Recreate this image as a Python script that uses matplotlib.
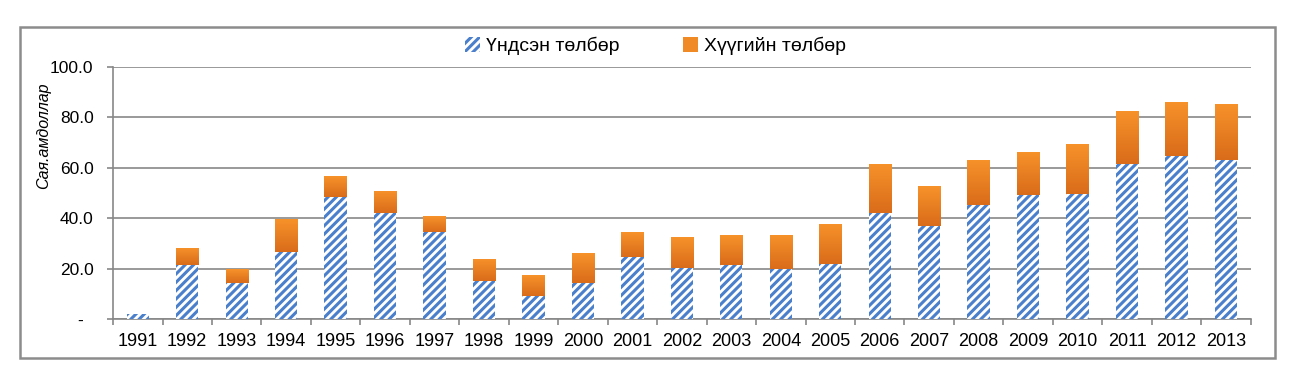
import numpy as np
import matplotlib.pyplot as plt
from matplotlib.colors import LinearSegmentedColormap
from matplotlib.patches import Rectangle

plt.rcParams['font.family'] = ['Liberation Sans', 'DejaVu Sans']
plt.rcParams['hatch.linewidth'] = 2.2

# =========================
# Data (сая ам.доллар)
# =========================
years = ['1991', '1992', '1993', '1994', '1995', '1996', '1997', '1998',
         '1999', '2000', '2001', '2002', '2003', '2004', '2005', '2006',
         '2007', '2008', '2009', '2010', '2011', '2012', '2013']
principal = [2.0, 21.5, 14.5, 26.7, 48.5, 41.9, 34.6, 15.1,
             9.2, 14.5, 24.7, 20.2, 21.5, 19.8, 21.9, 41.9,
             37.0, 45.2, 49.1, 49.8, 61.3, 64.5, 63.2]
interest = [0.0, 6.8, 5.3, 12.9, 8.3, 8.9, 6.2, 8.9,
            8.2, 11.6, 9.7, 12.2, 11.8, 13.5, 16.0, 19.4,
            15.8, 18.0, 17.1, 19.4, 21.1, 21.5, 22.2]
yticks = [0, 20, 40, 60, 80, 100]
ytick_labels = ['-  ', '20.0', '40.0', '60.0', '80.0', '100.0']
labels = ['Үндсэн төлбөр', 'Хүүгийн төлбөр']

BLUE = '#4a7fcb'
ORANGE = '#f08a24'
GRID = '#878787'

fig = plt.figure(figsize=(13.1, 3.87), dpi=100)
ax = fig.add_axes([0.0863, 0.1749, 0.8684, 0.6528])

x = np.arange(len(years))
width = 0.45

b1 = ax.bar(x, principal, width, color='white', edgecolor=BLUE,
            linewidth=0, hatch='////', label=labels[0], zorder=3)
b2 = ax.bar(x, interest, width, bottom=principal, color=ORANGE,
            linewidth=0, label=labels[1], zorder=3)

# gradient fill for the orange segments
cmap = LinearSegmentedColormap.from_list('org', ['#d96c1a', '#f7922a'])
grad = np.linspace(0, 1, 64).reshape(-1, 1)
for r in b2:
    if r.get_height() <= 0:
        continue
    x0, y0 = r.get_x(), r.get_y()
    im = ax.imshow(grad, cmap=cmap, origin='lower', aspect='auto',
                   extent=[x0, x0 + r.get_width(), y0, y0 + r.get_height()],
                   zorder=3.5)
    im.set_clip_path(r)

ax.set_xlim(-0.5, len(years) - 0.5)
ax.set_ylim(0, 100)

ax.set_yticks(yticks)
ax.set_yticklabels(ytick_labels)
ax.set_xticks(x)
ax.set_xticklabels(years)
ax.set_xticks(np.arange(-0.5, len(years)), minor=True)

ax.grid(axis='y', color=GRID, linewidth=1.2, zorder=0)
ax.set_axisbelow(True)
for s in ['top', 'right']:
    ax.spines[s].set_visible(False)
for s in ['left', 'bottom']:
    ax.spines[s].set_color(GRID)
    ax.spines[s].set_linewidth(1.2)

ax.tick_params(axis='x', which='major', length=0, pad=10, labelsize=13)
ax.tick_params(axis='x', which='minor', length=4, width=1.2, color=GRID)
ax.tick_params(axis='y', length=4, width=1.2, color=GRID, pad=10, labelsize=12.5)

fig.text(0.033, 0.65, 'Сая.амдоллар', rotation=90, ha='center', va='center',
         fontsize=11.5, style='italic')

fig.legend(handles=[b1, b2], labels=labels, loc='center',
           bbox_to_anchor=(0.5005, 0.881), ncol=2, frameon=False,
           fontsize=14, handlelength=0.75, handleheight=0.75,
           handletextpad=0.3, columnspacing=3.3)

# outer chart frame
fig.patches.append(Rectangle((20 / 1310, 1 - 358 / 387), 1255 / 1310, 331 / 387,
                             transform=fig.transFigure, fill=False,
                             edgecolor='#8c8c8c', linewidth=1.8))

fig.savefig('out.png', dpi=100)
